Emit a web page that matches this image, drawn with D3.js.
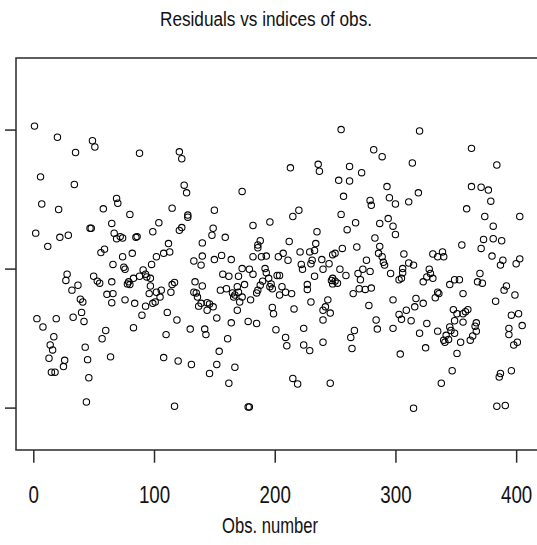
<!DOCTYPE html>
<html>
<head>
<meta charset="utf-8">
<script src="https://cdn.jsdelivr.net/npm/d3@7"></script>
<style>
  html, body { margin: 0; padding: 0; background: #fff; }
  svg { display: block; }
  text { font-family: "Liberation Sans", Arial, sans-serif; fill: #111; }
</style>
</head>
<body>
<svg id="chart" width="537" height="545"></svg>
<script>
const obsNumber = [
  1, 2, 3, 6, 7, 8, 12, 13, 14, 15, 16, 17, 18, 19, 20, 21, 22, 25, 26, 27,
  28, 29, 32, 33, 34, 35, 37, 39, 40, 41, 42, 43, 44, 45, 46, 47, 48, 49, 50, 51,
  53, 55, 56, 57, 58, 59, 60, 61,
  64, 65, 65, 65, 66, 66, 67, 69, 69, 70, 72, 74, 74, 75, 76, 76, 78, 79, 80, 80,
  82, 83, 83, 84, 85, 86, 88, 88, 90, 91, 93, 93, 94, 96, 97, 97, 98, 99, 99, 101,
  102, 102, 104, 105, 106, 108, 108, 110, 111, 112, 113, 114, 115, 115, 117, 117, 119, 120, 121, 121,
  123, 123, 125, 127, 128, 128, 130, 131, 133, 133, 134, 135, 136, 137,
  139, 139, 140, 140, 140, 142, 143, 144, 144, 146, 146, 148, 149, 149, 150, 150, 152, 152, 154, 155,
  156, 157, 159, 160, 161, 162, 162, 164, 164, 165, 166, 167, 167, 169, 169, 170, 170, 171, 173, 173,
  173, 175, 178, 178, 179, 179, 180, 182, 182, 182, 185, 185, 186, 186, 186, 188, 188, 189, 190, 192,
  193, 193, 195, 196, 196, 197, 198, 198, 199, 201, 202, 203, 204, 204, 206, 207, 209, 209, 210, 211,
  212, 213, 214, 215, 216,
  215, 219, 220, 221, 222, 223, 224, 224, 227, 227, 229, 229, 230, 230, 231, 233, 233, 234, 235, 236,
  237, 239, 240, 240, 240, 240, 242, 244, 245, 246, 246, 247, 248, 248, 248, 250, 250, 252, 253, 254,
  255, 255, 256, 257, 259, 260, 262, 262, 263, 264, 265, 266, 267, 268, 269, 270, 271, 272, 273, 275,
  276, 278, 279, 279, 280, 280, 282, 283, 284, 285, 286, 287,
  287, 289, 289, 290, 291, 293, 294, 295, 296, 298, 298, 298, 300, 300, 303, 303, 304, 305, 305, 306,
  306, 307, 309, 311, 311, 313, 314, 315, 315, 316, 317, 319, 320, 320, 323, 323, 325, 326, 326, 328,
  329, 331, 331, 333, 335, 335, 335, 336, 338, 339, 340, 340, 341, 342, 344, 345, 345, 346, 347, 348,
  349, 349, 349, 351, 351, 353, 354, 355, 356, 356, 356, 358, 359, 360, 363, 363,
  362, 364, 366, 367, 367, 368, 370, 371, 371, 372, 373, 374, 377, 379, 380, 381, 381, 383, 384, 384,
  386, 387, 387, 388, 389, 390, 391, 392, 394, 394, 396, 396, 398, 399, 400, 401, 402, 403, 403, 405
];
const residual = [
  2.05, 0.51, -0.72, 1.32, 0.93, -0.84, 0.32, -1.29, -1.10, -1.49, -1.17, -0.98, -1.49, -0.72, 1.89, 0.85, 0.45, -1.41, -1.32, -0.17,
  -0.08, 0.48, -0.31, -0.70, 1.21, 1.67, -0.24, -0.44, -0.63, -0.48, -0.76, -1.13, -1.92, -1.31, -1.57, 0.58, 0.58, 1.84, -0.11, 1.75,
  -0.18, -0.21, 0.23, -1.01, 0.86, 0.28, -0.89, -0.37,
  -1.27, 0.65, -0.19, -0.49, 0.06, -0.36, 0.51, 0.43, 1.01, 0.94, 0.46, 0.44, 0.17, 0.02, -0.01, -0.45, -0.22, -0.19, 0.78, -0.23,
  0.22, -0.14, -0.85, -0.50, 0.45, 0.46, 1.66, -0.11, -0.67, -0.02, -0.08, -0.54, -0.12, -0.36, -0.14, -0.25, 0.06, 0.53, -0.50, -0.48,
  0.17, -0.34, 0.66, -0.41, -0.31, -1.28, 0.22, -0.95, -0.63, 0.36, 0.24, -0.34, -0.23, 0.87, -1.98, -0.20, -0.74, -1.33, 1.68, 0.55,
  1.58, 0.59, 1.20, 1.09, 0.74, 0.77, -0.87, -1.38, 0.11, -0.34, -0.19, -0.35, -0.41, -0.54,
  -0.50, 0.05, 0.18, -0.25, 0.37, -0.87, -0.95, -0.60, -0.49, -0.51, -1.51, 0.48, 0.58, -0.55, 0.84, 0.13, -0.71, -1.38, -1.19, -0.31,
  0.19, -0.08, 0.45, -0.29, -1.01, -0.11, -1.65, -0.78, 0.13, -0.35, -0.41, -1.42, -0.38, -0.60, -0.26, -0.11, -0.34, -0.48, 0.00, -0.41,
  1.11, -0.23, -0.76, -1.99, -1.99, -0.01, -0.45, 0.62, 0.17, -0.08, -0.79, -0.35, 0.30, -0.31, 0.34, 0.40, -0.24, 0.17, -0.18, 0.00,
  0.18, -0.06, -0.14, 0.67, -0.26, -0.22, -0.29, -0.56, -0.65, -0.88, -0.10, 0.17, -0.10, -0.38, -0.26, 0.22, -0.34, -0.99, -1.11, 0.12,
  0.39, 1.45, -0.36, 0.75, -0.58,
  -1.58, -1.66, 0.84, 0.24, 0.06, -0.01, -0.86, -1.10, -0.23, -0.30, 0.24, -1.18, 0.07, -0.48, 0.12, 0.26, -0.11, 0.36, 0.53, 1.50,
  1.40, 0.13, -0.01, -1.06, -0.60, -0.74, -0.55, -0.45, 0.07, -0.64, -1.65, -0.17, 0.20, -0.14, -0.22, 0.22, -0.18, -0.21, 1.27, -0.01,
  0.78, 2.00, 0.29, 1.04, -0.10, 0.56, 1.47, 1.26, -0.99, -1.15, -0.36, -0.89, 0.66, 0.31, -0.07, -0.29, -0.16, 1.38, -0.01, -0.30,
  0.12, -0.53, 0.98, -0.04, -0.28, 0.91, 1.71, 0.44, -0.74, -0.87, 0.22, 0.32,
  0.65, 1.61, 0.17, 0.09, 0.05, 1.18, 0.72, 1.02, -0.07, -0.45, 0.61, -0.86, 0.93, 0.49, -0.16, -0.66, -1.23, -0.14, -0.73, -0.06,
  0.00, 0.21, -0.60, 0.96, 0.08, -0.75, 1.52, 0.05, -2.01, -0.55, -0.43, 1.09, 1.98, -0.93, -0.19, -0.50, -1.14, -0.12, -0.79, -0.01,
  -0.07, -0.14, 0.21, -0.42, 0.17, -0.34, -0.90, -0.36, -1.65, 0.24, 0.17, -1.03, -1.06, -0.96, -1.02, -0.84, -0.23, -0.89, -1.47, -0.59,
  -0.16, -0.75, -0.93, -1.22, -0.65, -0.16, -1.06, 0.34, -0.36, -0.65, -0.77, -0.62, 0.86, -0.59, 1.73, 1.18,
  -1.03, -0.97, -0.83, -0.90, -0.78, -0.19, -0.07, 1.17, 0.29, -0.21, 0.42, 0.75, 1.13, 0.97, 0.18, 0.61, 0.43, -0.47, 1.49, -1.98,
  -1.56, -1.51, 0.05, 0.40, 0.12, -0.31, -1.97, -0.25, -0.86, -0.95, -1.47, -0.67, -1.10, -0.38, 0.07, -1.06, -0.65, 0.14, 0.75, -0.82
];

const xTicks = [0, 100, 200, 300, 400];
const yTicks = [-2, 0, 2];
const title = 'Residuals vs indices of obs.';
const xLabel = 'Obs. number';

const svg = d3.select('#chart');
const box = { left: 16, right: 545, top: 58, bottom: 450 };

const x = d3.scaleLinear().domain([-14.33, 423.9]).range([box.left, box.right]);
const y = d3.scaleLinear().domain([-2.61, 3.03]).range([box.bottom, box.top]);

const points = obsNumber.map((d, i) => ({ obs: d, res: residual[i] }));

// points (pch = 1)
svg.append('g')
  .selectAll('circle')
  .data(points)
  .enter().append('circle')
  .attr('cx', d => x(d.obs))
  .attr('cy', d => y(d.res))
  .attr('r', 3.2)
  .attr('fill', 'none')
  .attr('stroke', '#000')
  .attr('stroke-width', 1.05);

// frame
svg.append('rect')
  .attr('x', box.left)
  .attr('y', box.top)
  .attr('width', box.right - box.left)
  .attr('height', box.bottom - box.top)
  .attr('fill', 'none')
  .attr('stroke', '#2a2a2a')
  .attr('stroke-width', 1.5);

// x axis
const xAxis = svg.append('g')
  .attr('transform', `translate(0,${box.bottom})`)
  .call(d3.axisBottom(x).tickValues(xTicks).tickSize(12.7).tickFormat(d3.format('d')));
xAxis.select('.domain').remove();
xAxis.selectAll('line').attr('stroke', '#2a2a2a').attr('stroke-width', 1.5);
xAxis.selectAll('text')
  .attr('y', 53)
  .attr('dy', 0)
  .attr('font-size', 24)
  .attr('fill', '#111')
  .attr('transform', 'scale(0.78,1)');

// y axis (labels fall outside the picture)
const yAxis = svg.append('g')
  .attr('transform', `translate(${box.left},0)`)
  .call(d3.axisLeft(y).tickValues(yTicks).tickSize(11).tickFormat(''));
yAxis.select('.domain').remove();
yAxis.selectAll('line').attr('stroke', '#2a2a2a').attr('stroke-width', 1.5);

// title and axis label
svg.append('text')
  .attr('x', 266)
  .attr('y', 26)
  .attr('text-anchor', 'middle')
  .attr('font-size', 20)
  .attr('textLength', 212)
  .attr('lengthAdjust', 'spacingAndGlyphs')
  .text(title);

svg.append('text')
  .attr('x', 270)
  .attr('y', 533)
  .attr('text-anchor', 'middle')
  .attr('font-size', 22)
  .attr('textLength', 96)
  .attr('lengthAdjust', 'spacingAndGlyphs')
  .text(xLabel);
</script>
</body>
</html>
